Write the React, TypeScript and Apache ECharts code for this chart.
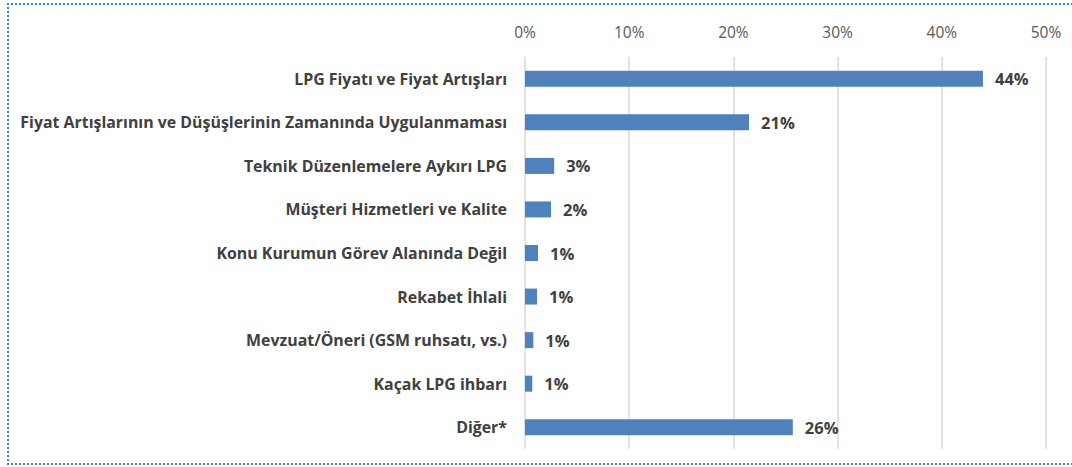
import React, { useEffect, useRef } from "react";
import * as echarts from "echarts";

const categories = [
  "LPG Fiyatı ve Fiyat Artışları",
  "Fiyat Artışlarının ve Düşüşlerinin Zamanında Uygulanmaması",
  "Teknik Düzenlemelere Aykırı LPG",
  "Müşteri Hizmetleri ve Kalite",
  "Konu Kurumun Görev Alanında Değil",
  "Rekabet İhlali",
  "Mevzuat/Öneri (GSM ruhsatı, vs.)",
  "Kaçak LPG ihbarı",
  "Diğer*",
];
const values = [0.4395, 0.215, 0.028, 0.025, 0.0125, 0.0115, 0.008, 0.007, 0.257];
const valueLabels = ["44%", "21%", "3%", "2%", "1%", "1%", "1%", "1%", "26%"];
const xTicks = [0, 0.1, 0.2, 0.3, 0.4, 0.5];

export default function App() {
  const ref = useRef<HTMLDivElement>(null);
  useEffect(() => {
    if (!ref.current) return;
    const chart = echarts.init(ref.current, undefined, { renderer: "svg" });
    chart.setOption({
      animation: false,
      grid: { left: 525, right: 26, top: 57, bottom: 18, containLabel: false },
      xAxis: {
        type: "value",
        position: "top",
        min: xTicks[0],
        max: xTicks[xTicks.length - 1],
        interval: 0.1,
        axisLine: { show: false },
        axisTick: { show: false },
        axisLabel: {
          formatter: (v: number) => Math.round(v * 100) + "%",
          color: "#595959",
          fontSize: 15.5,
          fontFamily: "Open Sans",
          margin: 17,
        },
        splitLine: { show: true, lineStyle: { color: "#d9d9d9", width: 1.5 } },
      },
      yAxis: {
        type: "category",
        inverse: true,
        data: categories,
        axisLine: { show: false },
        axisTick: { show: false },
        axisLabel: {
          color: "#404040",
          fontSize: 15.9,
          fontWeight: "bold",
          fontFamily: "Open Sans",
          margin: 18,
        },
      },
      series: [
        {
          type: "bar",
          data: values,
          barWidth: 16,
          itemStyle: { color: "#4f81bd" },
          label: {
            show: true,
            position: "right",
            distance: 12,
            formatter: (p: any) => valueLabels[p.dataIndex],
            color: "#404040",
            fontSize: 16.5,
            fontWeight: "bold",
            fontFamily: "Open Sans",
          },
        },
      ],
    });
    return () => chart.dispose();
  }, []);
  return (
    <div style={{ position: "fixed", left: 0, top: 0, width: 1072, height: 467, background: "#fff", overflow: "hidden" }}>
      <div ref={ref} style={{ position: "absolute", left: 0, top: 0, width: 1072, height: 467 }} />
      <div
        style={{
          position: "absolute",
          left: 7,
          top: 3,
          width: 1080,
          height: 458,
          borderTop: "2px dotted #1f8fd6",
          borderBottom: "2px dotted #1f8fd6",
          borderLeft: "2px dotted #1f8fd6",
          pointerEvents: "none",
        }}
      />
    </div>
  );
}
